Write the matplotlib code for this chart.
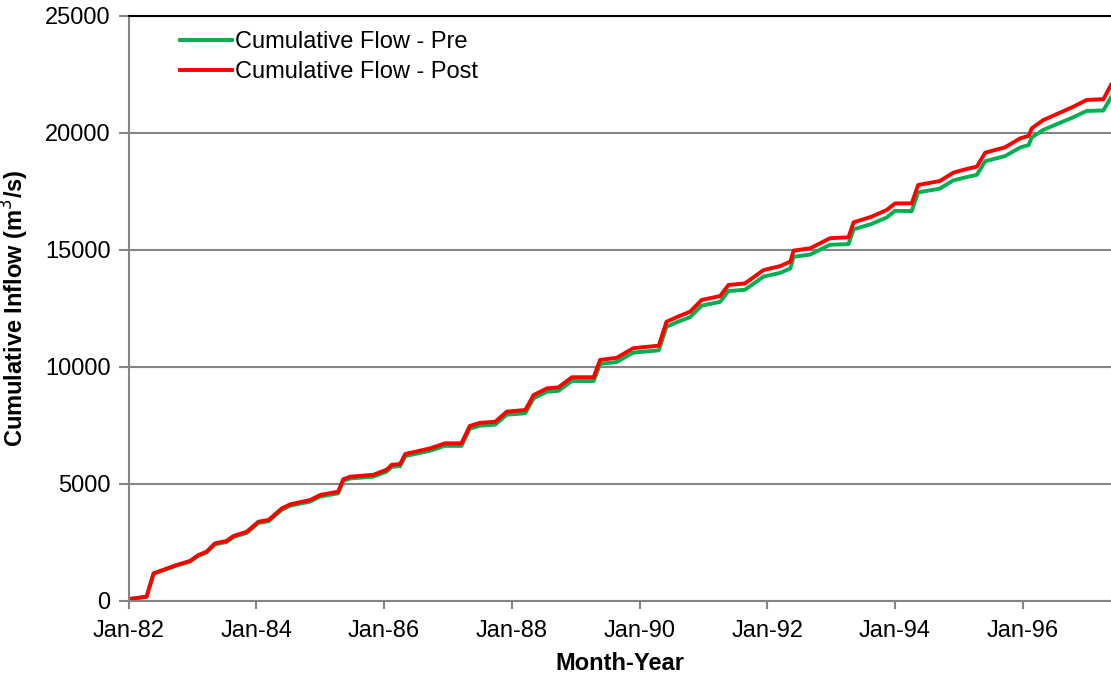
import numpy as np
import matplotlib.pyplot as plt

# decimal year of each reading
years = [1982.00, 1982.28, 1982.39, 1982.75, 1982.96, 1983.09, 1983.22, 1983.35,
         1983.53, 1983.64, 1983.85, 1984.03, 1984.19, 1984.40, 1984.53, 1984.84,
         1985.00, 1985.28, 1985.36, 1985.47, 1985.83, 1986.04, 1986.12, 1986.25,
         1986.33, 1986.72, 1986.95, 1987.21, 1987.34, 1987.50, 1987.74, 1987.92,
         1988.21, 1988.34, 1988.55, 1988.73, 1988.94, 1989.28, 1989.38, 1989.64,
         1989.90, 1990.30, 1990.42, 1990.60, 1990.79, 1990.97, 1991.26, 1991.39,
         1991.65, 1991.94, 1992.20, 1992.36, 1992.41, 1992.67, 1992.98, 1993.27,
         1993.35, 1993.63, 1993.87, 1994.00, 1994.26, 1994.36, 1994.70, 1994.91,
         1995.10, 1995.28, 1995.41, 1995.72, 1995.96, 1996.09, 1996.14, 1996.32,
         1996.58, 1996.79, 1997.00, 1997.26, 1997.38]

flow_post = [70, 170, 1170, 1525, 1700, 1950, 2095, 2450,
             2550, 2765, 2950, 3375, 3450, 3950, 4120, 4300,
             4520, 4660, 5190, 5300, 5380, 5600, 5810, 5840,
             6270, 6510, 6725, 6725, 7465, 7600, 7650, 8080,
             8150, 8790, 9075, 9120, 9550, 9550, 10290, 10380,
             10790, 10900, 11920, 12140, 12350, 12850, 13020, 13490,
             13560, 14130, 14300, 14490, 14960, 15060, 15490, 15530,
             16170, 16410, 16700, 16980, 16980, 17765, 17935, 18290,
             18435, 18550, 19145, 19375, 19760, 19860, 20190, 20540,
             20855, 21110, 21400, 21430, 22040]

flow_pre = [70, 165, 1150, 1500, 1670, 1915, 2060, 2410,
            2505, 2720, 2900, 3320, 3395, 3890, 4060, 4235,
            4455, 4590, 5120, 5225, 5300, 5520, 5725, 5750,
            6180, 6410, 6620, 6615, 7350, 7480, 7525, 7950,
            8010, 8650, 8930, 8970, 9390, 9385, 10120, 10200,
            10600, 10700, 11710, 11920, 12120, 12610, 12770, 13230,
            13290, 13850, 14010, 14200, 14700, 14790, 15210, 15240,
            15870, 16100, 16380, 16660, 16650, 17450, 17610, 17960,
            18090, 18200, 18780, 19000, 19370, 19470, 19800, 20120,
            20420, 20660, 20930, 20950, 21500]

xtick_years = [1982, 1984, 1986, 1988, 1990, 1992, 1994, 1996]
xtick_labels = ['Jan-82', 'Jan-84', 'Jan-86', 'Jan-88', 'Jan-90', 'Jan-92', 'Jan-94', 'Jan-96']

plt.rcParams['font.family'] = ['Liberation Sans', 'DejaVu Sans']
fs = 17
grey = '#868686'

fig = plt.figure(figsize=(11.11, 6.79), dpi=100)
ax = fig.add_axes([0.1158, 0.1153, 1.0 - 0.1158, 0.9769 - 0.1153])

ax.plot(years, flow_pre, color='#00B050', lw=2.8, label='Cumulative Flow - Pre')
ax.plot(years, flow_post, color='#FF0000', lw=2.8, label='Cumulative Flow - Post')

ax.set_xlim(1982, 1997.38)
ax.set_ylim(0, 25000)
ax.set_yticks(np.arange(0, 25001, 5000))
ax.set_xticks(xtick_years)
ax.set_xticklabels(xtick_labels)

ax.yaxis.grid(True, color=grey, lw=1.5)
ax.set_axisbelow(True)
for side in ['left', 'bottom']:
    ax.spines[side].set_color(grey)
    ax.spines[side].set_linewidth(1.5)
ax.spines['top'].set_color('black')
ax.spines['top'].set_linewidth(1.5)
ax.spines['right'].set_visible(False)

ax.tick_params(axis='both', labelsize=fs, color=grey, width=1.5, direction='out')
ax.tick_params(axis='x', length=6, pad=8)
ax.tick_params(axis='y', length=7, pad=6)

ax.set_xlabel('Month-Year', fontsize=fs, fontweight='bold', labelpad=7)
ax.set_ylabel('Cumulative Inflow (m$^3$/s)', fontsize=fs, fontweight='bold', labelpad=10)

ax.legend(loc='upper left', bbox_to_anchor=(0.052, 0.973), frameon=False, fontsize=fs,
          handlelength=2.2, handletextpad=0.15, labelspacing=0.32,
          borderpad=0, borderaxespad=0)

fig.savefig('out.png', dpi=100)
